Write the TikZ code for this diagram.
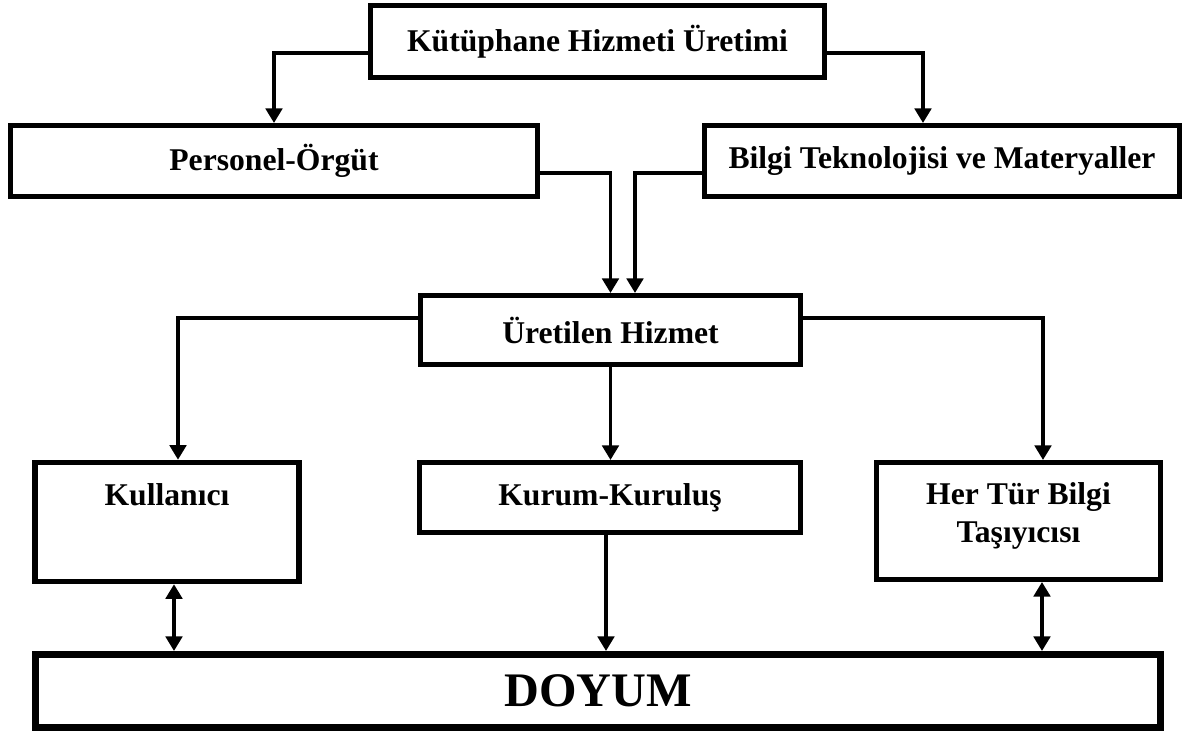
\documentclass[tikz,border=0pt]{standalone}
\usepackage{fontspec}
\setmainfont{Liberation Serif}
\usetikzlibrary{arrows.meta}

\begin{document}
\begin{tikzpicture}[x=0.01cm,y=-0.01cm,
    kutu/.style={draw,line width=0.055cm,align=center,inner sep=0pt,
        font=\fontsize{9}{10.8}\selectfont\bfseries},
    ok/.style={line width=0.033cm,-{Triangle[length=0.145cm,width=0.165cm]}},
    ciftok/.style={line width=0.033cm,
        {Triangle[length=0.145cm,width=0.165cm]}-{Triangle[length=0.145cm,width=0.165cm]}}]
    \useasboundingbox (0,0) rectangle (1202,731);

    \node[kutu,minimum width=4.535cm,minimum height=0.715cm] (top) at (597.5,41.5) {Kütüphane Hizmeti Üretimi};
    \node[kutu,minimum width=5.265cm,minimum height=0.705cm] (pers) at (274,161) {Personel-Örgüt};
    \node[kutu,minimum width=4.745cm,minimum height=0.705cm] (bilgi) at (942,161) {Bilgi Teknolojisi ve Materyaller};
    \node[kutu,minimum width=3.795cm,minimum height=0.685cm] (uret) at (610.5,330) {Üretilen Hizmet};
    \node[kutu,minimum width=2.64cm,minimum height=1.19cm] (kull) at (167,522) {Kullanıcı\\[0.17cm]\mbox{}};
    \node[kutu,minimum width=3.805cm,minimum height=0.695cm] (kurum) at (610,497.5) {Kurum-Kuruluş};
    \node[kutu,minimum width=2.835cm,minimum height=1.165cm] (her) at (1018.5,521)
        {Her Tür Bilgi\\Taşıyıcısı\rule[-0.16cm]{0pt}{0.16cm}};
    \node[kutu,line width=0.07cm,minimum width=11.24cm,minimum height=0.73cm,
        font=\fontsize{13.7}{16}\selectfont\bfseries] (doyum) at (598,691) {\raisebox{-0.06cm}{DOYUM}};

    % uretim kollari
    \draw[ok] (top.west |- 0,53) -| (pers.north);
    \draw[ok] (top.east |- 0,53) -| (bilgi.north -| 923,0);

    % hizmete giden
    \draw[ok] (pers.east |- 0,173) -| (uret.north);
    \draw[ok] (bilgi.west |- 0,173) -| (uret.north -| 635,0);

    % hizmetten cikan
    \draw[ok] (uret.west |- 0,318) -| (kull.north -| 178,0);
    \draw[ok] (uret.east |- 0,318) -| (her.north -| 1043,0);
    \draw[ok] (uret.south) -- (uret.south |- kurum.north);

    % doyuma
    \draw[ok] (kurum.south -| 606,0) -- (doyum.north -| 606,0);
    \draw[ciftok] (kull.south -| 174,0) -- (doyum.north -| 174,0);
    \draw[ciftok] (her.south -| 1042,0) -- (doyum.north -| 1042,0);
\end{tikzpicture}
\end{document}
